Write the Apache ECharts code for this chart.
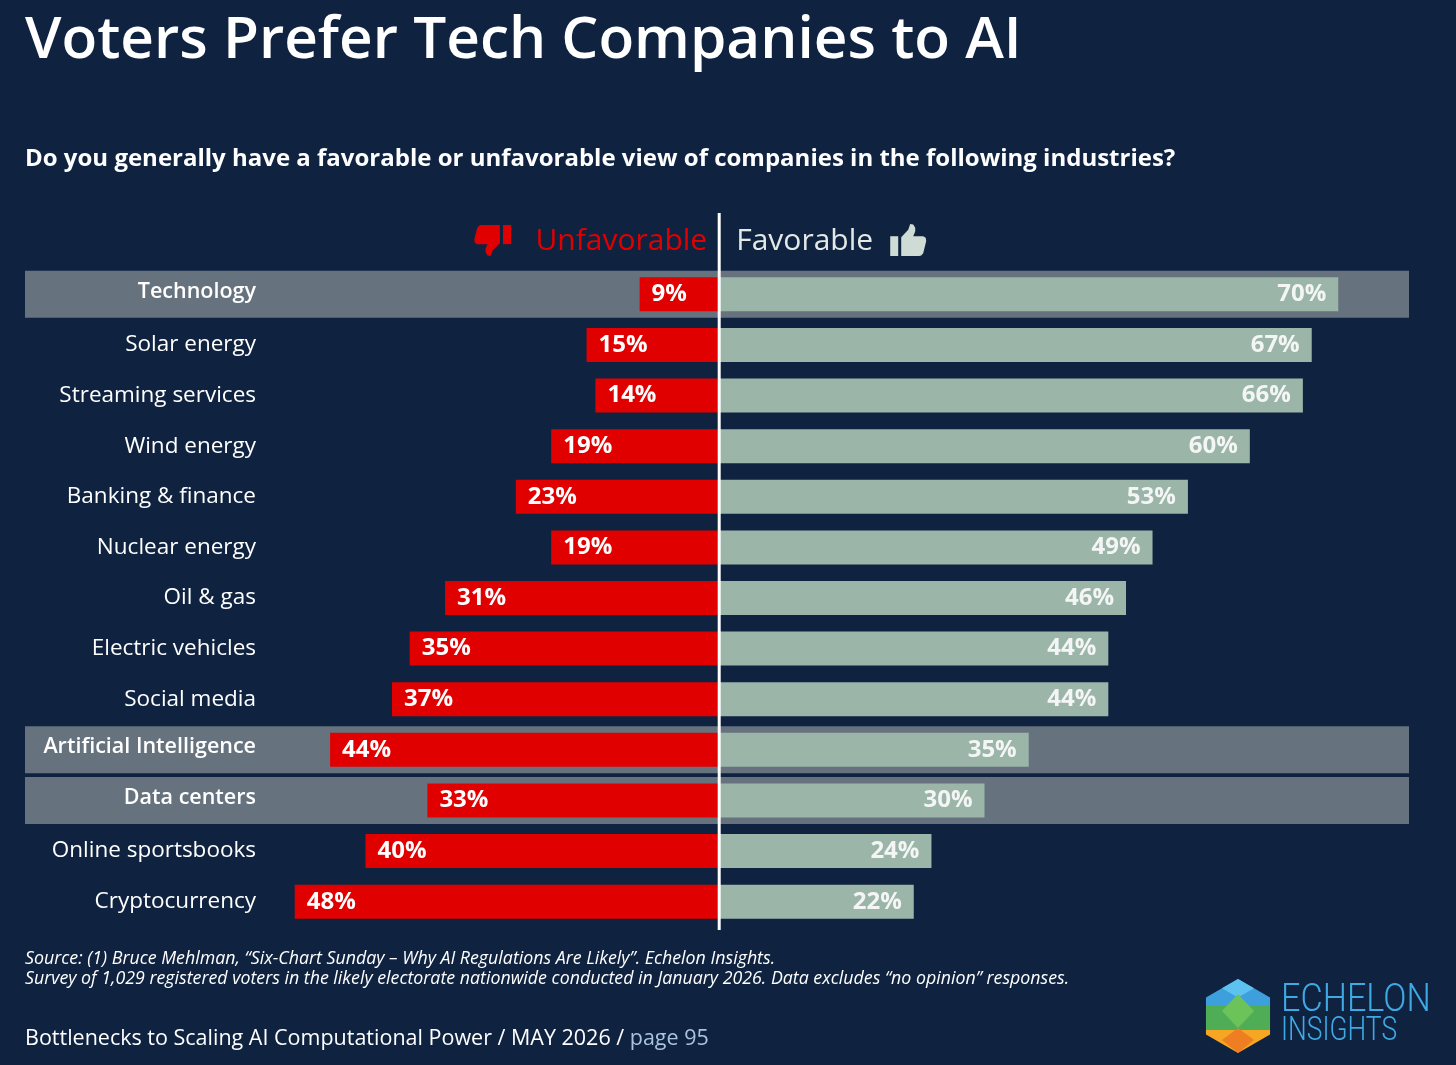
<!DOCTYPE html>
<html><head><meta charset="utf-8">
<script src="https://cdn.jsdelivr.net/npm/echarts@6/dist/echarts.min.js"></script>
<style>html,body{margin:0;padding:0;background:#0f2340;}#c{width:1456px;height:1065px;}</style>
</head><body><div id="c"></div>
<script>
const categories = ['Technology','Solar energy','Streaming services','Wind energy','Banking & finance','Nuclear energy','Oil & gas','Electric vehicles','Social media','Artificial Intelligence','Data centers','Online sportsbooks','Cryptocurrency'];
const unfavorable = [9,15,14,19,23,19,31,35,37,44,33,40,48];
const favorable = [70,67,66,60,53,49,46,44,44,35,30,24,22];
const highlighted = ['Technology','Artificial Intelligence','Data centers'];

const X_MIN = -78.5, X_MAX = 78;
const BG = '#0f2340', RED = '#e10000', GREEN = '#9bb5a9', BAND = '#66737f';
const FONT = '"Open Sans", Lato, sans-serif';

const chart = echarts.init(document.getElementById('c'), null, {renderer:'canvas'});

const option = {
  backgroundColor: BG,
  animation: false,
  grid: {left: 25, right: 47, top: 269, height: 658, containLabel: false},
  xAxis: {type: 'value', min: X_MIN, max: X_MAX, show: false},
  yAxis: [
    {
      type: 'category', data: categories, inverse: true, offset: -233, z: 10,
      axisLine: {show: false}, axisTick: {show: false}, splitLine: {show: false},
      axisLabel: {
        margin: 2, color: '#ffffff', fontFamily: FONT, fontSize: 22.5,
        formatter: v => highlighted.includes(v) ? '{h|' + v + '}' : '{n|' + v + '}',
        rich: {
          n: {fontFamily: FONT, fontSize: 22.5, color: '#ffffff'},
          h: {fontFamily: FONT, fontSize: 21.5, fontWeight: 600, color: '#ffffff', padding: [0,0,5,0]}
        }
      }
    },
    {type: 'category', data: categories, inverse: true, show: false}
  ],
  series: [
    {
      name: 'bandL', type: 'bar', yAxisIndex: 1, stack: 'band', barWidth: 47, silent: true,
      itemStyle: {color: BAND}, z: 1,
      data: categories.map(c => highlighted.includes(c) ? X_MIN : '-')
    },
    {
      name: 'bandR', type: 'bar', yAxisIndex: 1, stack: 'band', barWidth: 47, silent: true,
      itemStyle: {color: BAND}, z: 1,
      data: categories.map(c => highlighted.includes(c) ? X_MAX : '-')
    },
    {
      name: 'Unfavorable', type: 'bar', yAxisIndex: 0, stack: 'main', barWidth: 34, z: 3,
      itemStyle: {color: RED},
      label: {show: true, position: 'insideLeft', distance: 12, color: '#ffffff', fontFamily: FONT,
        fontSize: 24, fontWeight: 'bold', formatter: p => Math.abs(p.value) + '%'},
      data: unfavorable.map(v => -v)
    },
    {
      name: 'Favorable', type: 'bar', yAxisIndex: 0, stack: 'main', barWidth: 34, z: 3,
      itemStyle: {color: GREEN},
      label: {show: true, position: 'insideRight', distance: 12, color: '#f4f6f5', fontFamily: FONT,
        fontSize: 24, fontWeight: 'bold', formatter: p => p.value + '%'},
      data: favorable
    }
  ]
};
chart.setOption(option);

const x0 = chart.convertToPixel({xAxisIndex: 0}, 0);
const gridBottom = 269 + 658;

// thumbs icon outline in a 36x34 box
const cuffUp = [[0,13],[8,13],[8,34],[0,34]];
const handUp = [[11,14],[18,6],[20,0],[23,0.5],[25,4],[25,8],[23,13],[33,13],[35.5,14.5],[36,18],[33,31],[31,33.5],[29,34],[11,34]];
function place(pts, ox, oy, sx, sy, flip) {
  return pts.map(([x, y]) => flip ? [ox + (36 - x) * sx, oy + (34 - y) * sy] : [ox + x * sx, oy + y * sy]);
}

const cx = 1238, cy = 1016, r = 37, hw = r * Math.sqrt(3) / 2;
function P(x, y) { return [cx + x, cy + y]; }

chart.setOption({
  graphic: [
    {type: 'text', x: 25, y: 41, z: 10, style: {text: 'Voters Prefer Tech Companies to AI', fill: '#ffffff',
      font: '600 58.5px ' + FONT, verticalAlign: 'middle', align: 'left'}},
    {type: 'text', x: 25, y: 159, z: 10, style: {text: 'Do you generally have a favorable or unfavorable view of companies in the following industries?',
      fill: '#ffffff', font: 'bold 24px ' + FONT, verticalAlign: 'middle', align: 'left'}},
    {type: 'text', x: x0 - 12, y: 241, z: 10, style: {text: 'Unfavorable', fill: RED, font: '30px ' + FONT, verticalAlign: 'middle', align: 'right'}},
    {type: 'text', x: x0 + 17, y: 241, z: 10, style: {text: 'Favorable', fill: '#e3e9e6', font: '30px ' + FONT, verticalAlign: 'middle', align: 'left'}},
    {type: 'polygon', z: 10, shape: {points: place(cuffUp, x0 - 245, 225, 37/36, 31/34, true)}, style: {fill: RED}},
    {type: 'polygon', z: 10, shape: {points: place(handUp, x0 - 245, 225, 37/36, 31/34, true)}, style: {fill: RED}},
    {type: 'polygon', z: 10, shape: {points: place(cuffUp, x0 + 171, 224, 1, 32/34, false)}, style: {fill: '#cfdcd6'}},
    {type: 'polygon', z: 10, shape: {points: place(handUp, x0 + 171, 224, 1, 32/34, false)}, style: {fill: '#cfdcd6'}},
    {type: 'line', z: 20, shape: {x1: x0, y1: 213, x2: x0, y2: gridBottom + 3}, style: {stroke: '#ffffff', lineWidth: 3}},
    {type: 'text', x: 25, y: 959, z: 10, style: {text: 'Source: (1) Bruce Mehlman, \u201cSix-Chart Sunday \u2013 Why AI Regulations Are Likely\u201d. Echelon Insights.',
      fill: '#ffffff', font: 'italic 17.8px ' + FONT, verticalAlign: 'middle', align: 'left'}},
    {type: 'text', x: 25, y: 979, z: 10, style: {text: 'Survey of 1,029 registered voters in the likely electorate nationwide conducted in January 2026. Data excludes \u201cno opinion\u201d responses.',
      fill: '#ffffff', font: 'italic 17.8px ' + FONT, verticalAlign: 'middle', align: 'left'}},
    {type: 'text', x: 25, y: 1039, z: 10, style: {text: '{a|Bottlenecks to Scaling AI Computational Power / MAY 2026 / }{b|page 95}',
      verticalAlign: 'middle', align: 'left',
      rich: {a: {fill: '#ffffff', fontFamily: FONT, fontSize: 21.5}, b: {fill: '#a9c3e0', fontFamily: FONT, fontSize: 21.5}}}},
    // logo
    {type: 'polygon', z: 10, shape: {points: [P(0,-r), P(hw,-r/2), P(hw,-11), P(-hw,-11), P(-hw,-r/2)]}, style: {fill: '#3d9fdc'}},
    {type: 'polygon', z: 11, shape: {points: [P(0,-r), P(hw/2,-r*0.75), P(0,-r/2), P(-hw/2,-r*0.75)]}, style: {fill: '#5ec2f0'}},
    {type: 'polygon', z: 10, shape: {points: [P(-hw,-11), P(hw,-11), P(hw,14), P(-hw,14)]}, style: {fill: '#4fae55'}},
    {type: 'polygon', z: 11, shape: {points: [P(0,-22), P(hw/2,-5), P(0,12), P(-hw/2,-5)]}, style: {fill: '#6cc35a'}},
    {type: 'polygon', z: 10, shape: {points: [P(-hw,14), P(hw,14), P(hw,r/2), P(0,r), P(-hw,r/2)]}, style: {fill: '#f5a623'}},
    {type: 'polygon', z: 11, shape: {points: [P(0,12), P(hw/2,24), P(0,r), P(-hw/2,24)]}, style: {fill: '#ef7d22'}},
    {type: 'text', x: 1281, y: 1001, z: 10, scaleX: 0.9, style: {text: 'ECHELON', fill: '#3fa9e6', font: '300 38px Roboto, sans-serif', verticalAlign: 'middle', align: 'left'}},
    {type: 'text', x: 1281, y: 1032, z: 10, scaleX: 0.8, style: {text: 'INSIGHTS', fill: '#3fa9e6', font: '300 33px Roboto, sans-serif', verticalAlign: 'middle', align: 'left'}}
  ]
});
</script>
</body></html>
